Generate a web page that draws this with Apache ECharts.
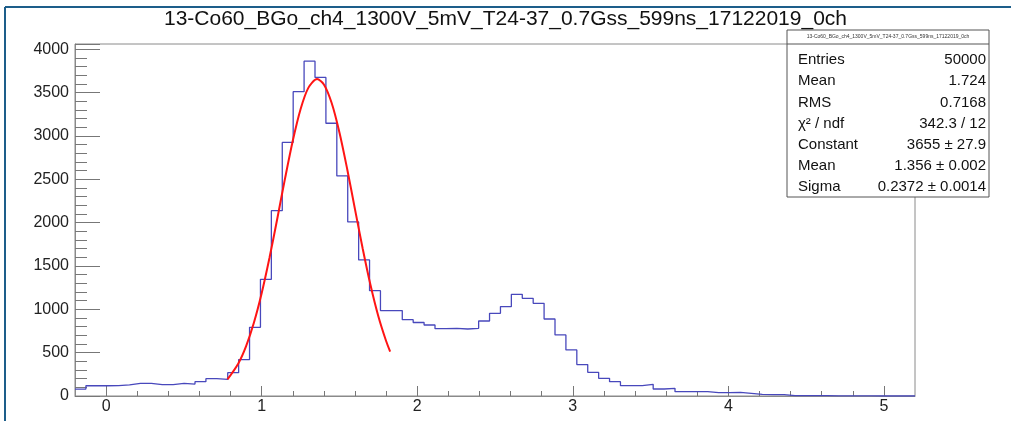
<!DOCTYPE html>
<html>
<head>
<meta charset="utf-8">
<script src="https://cdn.jsdelivr.net/npm/echarts@6/dist/echarts.min.js"></script>
<style>
    html, body { margin: 0; padding: 0; background: #fff; }
    #chart { width: 1011px; height: 421px; }
</style>
</head>
<body>
<div id="chart"></div>
<script>
// histogram: 77 bins from -0.2 to 5.2
const histTitle = '13-Co60_BGo_ch4_1300V_5mV_T24-37_0.7Gss_599ns_17122019_0ch';
const binLow = -0.2;
const binHigh = 5.2;
const binCounts = [
    80, 118, 118, 120, 128, 146, 146, 131, 131, 146,
    138, 165, 200, 192, 269, 420, 792, 1346, 2137, 2925,
    3510, 3862, 3675, 3146, 2538, 2008, 1569, 1215, 985, 985,
    880, 848, 819, 777, 781, 773, 781, 865, 954, 1031,
    1173, 1127, 1069, 888, 704, 531, 362, 273, 204, 165,
    119, 119, 135, 81, 88, 50, 50, 50, 38, 38,
    42, 31, 19, 15, 15, 4, 4, 4, 4, 2,
    2, 2, 2, 0, 0, 0, 0
];
// gaus fit curve
const fitX = [0.78, 0.85, 0.90, 0.95, 1.00, 1.05, 1.10, 1.15, 1.20, 1.25, 1.30, 1.356,
    1.40, 1.45, 1.50, 1.55, 1.60, 1.65, 1.70, 1.75, 1.80, 1.826];
const fitY = [192, 376, 576, 845, 1185, 1591, 2042, 2507, 2944, 3308, 3554, 3655,
    3593, 3379, 3040, 2616, 2153, 1696, 1277, 920, 634, 513];
// stats box
const statNames = ['Entries', 'Mean', 'RMS', 'χ² / ndf', 'Constant', 'Mean', 'Sigma'];
const statValues = ['50000', '1.724', '0.7168', '342.3 / 12', '3655 ± 27.9', '1.356 ± 0.002', '0.2372 ± 0.0014'];
const xMajor = [0, 1, 2, 3, 4, 5];
const xMinor = [0.2, 0.4, 0.6, 0.8, 1.2, 1.4, 1.6, 1.8, 2.2, 2.4, 2.6, 2.8,
    3.2, 3.4, 3.6, 3.8, 4.2, 4.4, 4.6, 4.8, 5.0];

const FONT = '"Liberation Sans", Arial, sans-serif';
const AXIS_GRAY = '#8a8a8a';

var binWidth = (binHigh - binLow) / binCounts.length;
var histData = binCounts.map((v, i) => [binLow + i * binWidth, v]);
histData.push([binHigh, binCounts[binCounts.length - 1]]);
var fitData = fitX.map((x, i) => [x, fitY[i]]);

// stats box texts
var statBox = { x: 787, y: 30, w: 202, h: 167, head: 14, row: 21.2 };
var statChildren = [
    { type: 'rect', shape: { x: 0, y: 0, width: statBox.w, height: statBox.h },
      style: { fill: '#fff', stroke: '#555', lineWidth: 1 } },
    { type: 'line', shape: { x1: 0, y1: statBox.head, x2: statBox.w, y2: statBox.head },
      style: { stroke: '#555', lineWidth: 1 } },
    { type: 'text', x: statBox.w / 2, y: statBox.head / 2,
      style: { text: histTitle, font: '5px ' + FONT, fill: '#333', align: 'center', verticalAlign: 'middle' } }
];
statNames.forEach((name, i) => {
    var cy = statBox.head + 16 + i * statBox.row;
    statChildren.push({ type: 'text', x: 11, y: cy,
        style: { text: name, font: '15px ' + FONT, fill: '#111', verticalAlign: 'middle' } });
    statChildren.push({ type: 'text', x: statBox.w - 3, y: cy,
        style: { text: statValues[i], font: '15px ' + FONT, fill: '#111', align: 'right', verticalAlign: 'middle' } });
});

var myChart = echarts.init(document.getElementById('chart'), null, { renderer: 'canvas' });
var option = {
    animation: false,
    backgroundColor: '#fff',
    title: {
        text: histTitle,
        left: 'center',
        top: 4,
        textStyle: { fontFamily: FONT, fontSize: 21, fontWeight: 'normal', color: '#111' }
    },
    grid: {
        left: 75, top: 44, width: 840, height: 352,
        show: true, borderColor: AXIS_GRAY, borderWidth: 1, backgroundColor: 'transparent'
    },
    xAxis: [
        {
            type: 'value', min: binLow, max: binHigh, position: 'bottom',
            axisLine: { show: true, onZero: false, lineStyle: { color: AXIS_GRAY } },
            axisTick: { show: true, inside: true, length: 10, customValues: xMajor, lineStyle: { color: '#777' } },
            axisLabel: { customValues: xMajor, margin: 3, fontFamily: FONT, fontSize: 16, color: '#222' },
            splitLine: { show: false }
        },
        {
            type: 'value', min: binLow, max: binHigh, position: 'bottom',
            axisLine: { show: false, onZero: false },
            axisTick: { show: true, inside: true, length: 5, customValues: xMinor, lineStyle: { color: '#777' } },
            axisLabel: { show: false },
            splitLine: { show: false }
        }
    ],
    yAxis: {
        type: 'value', min: 0, max: 4060, interval: 500,
        axisLine: { show: true, onZero: false, lineStyle: { color: AXIS_GRAY } },
        axisTick: { show: true, inside: true, length: 25, lineStyle: { color: '#777' } },
        minorTick: { show: true, splitNumber: 5, length: 12, lineStyle: { color: '#777' } },
        axisLabel: {
            showMaxLabel: false, margin: 6, fontFamily: FONT, fontSize: 16, color: '#222',
            formatter: v => String(v)
        },
        splitLine: { show: false }
    },
    series: [
        {
            name: 'hist', type: 'line', step: 'end', showSymbol: false,
            xAxisIndex: 0, yAxisIndex: 0,
            lineStyle: { color: '#4848bc', width: 1.3 },
            data: histData
        },
        {
            name: 'gaus', type: 'line', smooth: 0.3, showSymbol: false,
            xAxisIndex: 0, yAxisIndex: 0,
            lineStyle: { color: '#ff1414', width: 2 },
            data: fitData
        }
    ],
    graphic: [
        { type: 'line', shape: { x1: 5, y1: 7, x2: 1011, y2: 7 }, style: { stroke: '#1d5e8a', lineWidth: 2 } },
        { type: 'line', shape: { x1: 5, y1: 7, x2: 5, y2: 421 }, style: { stroke: '#1d5e8a', lineWidth: 2 } },
        { type: 'group', x: statBox.x, y: statBox.y, children: statChildren }
    ]
};
myChart.setOption(option);
</script>
</body>
</html>
